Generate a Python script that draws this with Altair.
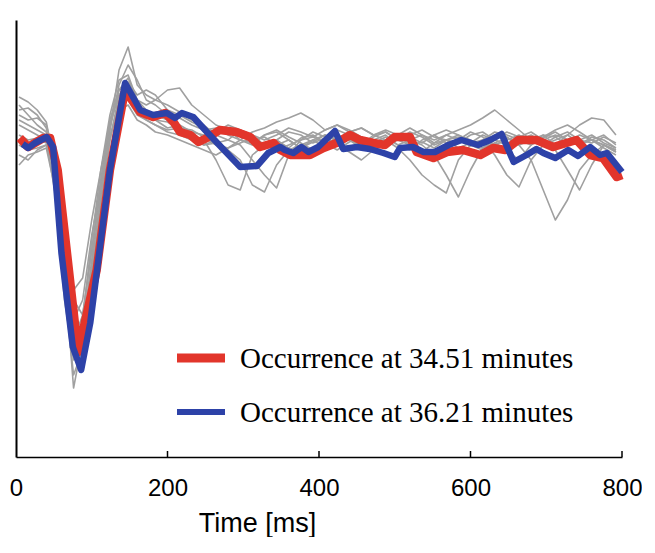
import altair as alt
import pandas as pd

# ---- data (time in ms, amplitude in arbitrary units) ----
red_t = [5, 16, 36, 45, 55, 82, 106.5, 124, 144, 164, 181, 197, 208, 216.5, 230, 241, 252, 269, 291,
         309, 322, 340, 349, 362, 388, 406, 423, 441, 454, 472, 487, 500, 520, 529, 551, 569, 590,
         613, 630, 646, 663, 687, 709, 740, 758, 775, 793, 800]
red_a = [2, -7, 2, 2, -30, -212, -130, -30, 50, 28, 23, 27, 18, 8, 5, -2, 2, 10, 8,
         3, -7, -3, -10, -15, -15, -8, -3, 5, 0, -3, -5, 3, 3, -12, -18, -12, -10,
         -15, -8, -10, 0, 0, -7, 0, -15, -18, -37, -35]

blue_t = [8.8, 16.2, 25, 40.5, 49, 60, 75, 86, 98, 124, 144, 164, 181, 199, 210, 219, 234, 252, 272,
          296, 318, 333, 349, 355, 366, 377, 386, 399, 421, 432, 450, 467, 485, 500, 507, 524, 538,
          553, 571, 588, 610, 626, 641, 657, 674, 687, 696, 712, 729, 742, 758, 771, 780, 800]
blue_a = [-4, -8, -3, 3, -7, -113, -207, -230, -183, -30, 57, 30, 25, 27, 22, 27, 23, 8, -8,
          -27, -26, -13, -7, -10, -13, -7, -12, -7, 9, -9, -7, -9, -13, -17, -8, -7, -12,
          -12, -5, 0, -5, 0, 6, -22, -15, -9, -13, -18, -10, -16, -7, -15, -13, -32]

gray_t = [4, 16, 28, 40, 52, 64, 76, 88, 100, 112, 124, 136, 148, 160, 172, 184, 200, 216, 232, 248,
          264, 280, 296, 312, 328, 344, 360, 376, 392, 408, 424, 440, 456, 472, 488, 504, 520, 536,
          552, 568, 584, 600, 616, 632, 648, 664, 680, 696, 712, 728, 744, 760, 776, 792]

gray_1 = [43, 38, 30, 18, -30, -120, -200, -175, -110, -50, 10, 70, 93, 55, 45, 40, 35, 28, 20, 15,
          5, 0, 10, 5, -5, 0, 8, 5, -3, 2, 10, 5, -5, 0, 5, -5, -10, 0,
          5, -3, 0, 8, 3, -5, 0, 5, -3, 2, 8, 0, -5, 3, 0, -8]
gray_2 = [30, 32, 25, 12, -40, -140, -215, -190, -120, -40, 20, 50, 62, 40, 35, 40, 50, 52, 35, 25,
          15, 10, 0, -5, 5, 8, 0, -8, -2, 5, 0, -10, -5, 3, 8, 0, -5, -12,
          -3, 5, 0, -6, -2, 5, 3, -5, 0, 5, -5, 5, 15, 22, 20, 5]
gray_3 = [20, 15, 10, 5, -25, -110, -190, -230, -150, -60, 0, 45, 50, 35, 28, 20, 18, 10, 5, 0,
          -20, -45, -50, -15, -5, 0, -8, 2, 5, -3, -10, -2, 3, -5, 0, 5, -5, -2,
          -8, 0, 3, -3, 0, -15, -35, -47, -20, -5, 0, 5, -3, 0, -5, -10]
gray_4 = [5, 0, 2, -3, -35, -130, -248, -200, -130, -70, -20, 35, 45, 30, 20, 15, 10, 12, 5, -5,
          0, -10, -20, -45, -52, -25, -10, -5, 0, -8, -3, 5, 0, -8, -3, 0, 8, 3,
          -5, 0, -8, -3, 5, 0, -5, 3, 8, 0, -5, -2, 5, 0, -8, -15]
gray_5 = [-5, -10, -8, -5, -45, -150, -235, -210, -140, -60, 0, 40, 40, 25, 20, 15, 8, 5, 0, -5,
          -3, 0, -5, -20, -35, -48, -15, 0, 3, -2, 5, 0, -8, -3, 3, -5, 0, 5,
          -3, 0, 5, -5, -10, -3, 2, -5, -20, -50, -80, -60, -30, -15, -5, -12]
gray_6 = [35, 25, 15, 8, -30, -115, -180, -160, -95, -45, 10, 55, 75, 60, 40, 35, 25, 22, 15, 10,
          12, 5, 0, 8, 12, 18, 22, 27, 20, 10, 15, 8, 12, 5, 8, 0, 5, 10,
          3, 0, -3, 5, 8, 0, -5, 0, 5, -3, -10, -30, -50, -25, -5, -10]
gray_7 = [-15, -20, -10, -5, -25, -100, -160, -175, -110, -40, 15, 50, 55, 35, 25, 20, 12, 15, 8, 5,
          10, 12, 5, 0, 3, -5, 0, -8, 0, 5, 0, 8, 12, 5, 0, -8, -20, -35,
          -45, -53, -20, -5, 0, 8, 5, 0, -5, 5, 3, -5, 0, 5, -3, -8]
gray_8 = [15, 10, 5, 0, -55, -160, -220, -180, -100, -30, 25, 60, 65, 40, 30, 25, 20, 12, 10, 3,
          -5, -8, 0, -3, 5, 10, 3, -3, -10, -5, 3, 0, -5, 5, 10, 5, 0, -5,
          -15, -35, -57, -30, -8, 0, 8, 3, -3, 0, 5, 0, -5, 0, 5, -5]
gray_9 = [25, 20, 22, 15, -20, -90, -150, -138, -80, -30, 15, 45, 58, 45, 50, 45, 30, 25, 18, 12,
          8, 15, 10, 5, 0, 5, 12, 8, 3, 10, 15, 10, 3, -3, 0, 5, 12, 5,
          0, 5, 10, 15, 22, 30, 20, 10, 0, -5, 3, 8, 0, -3, 3, -3]
gray_10 = [-25, -15, -12, -8, -50, -145, -205, -190, -125, -55, 5, 30, 35, 20, 15, 8, 5, 0, -5, -10,
           -15, -8, -3, 2, -5, -10, -5, 0, 8, 3, -5, -12, -20, -10, -5, 0, 3, -3,
           5, 10, 5, 0, -8, -3, -10, -20, -5, 3, 10, 15, 8, 0, -5, -12]

gray_series = [gray_1, gray_2, gray_3, gray_4, gray_5, gray_6, gray_7, gray_8, gray_9, gray_10]

x_ticks = [0, 200, 400, 600, 800]
inner_ticks = [200, 400, 600, 800]
legend_labels = ["Occurrence at 34.51 minutes", "Occurrence at 36.21 minutes"]

RED = "#e2352b"
BLUE = "#2d42a8"
GRAY = "#a0a0a0"

W, H = 606, 437

# ---- tables ----
gray_rows = []
for i, s in enumerate(gray_series):
    for k, (t, a) in enumerate(zip(gray_t, s)):
        gray_rows.append({"trace": i, "order": k, "t": t, "a": a})
gray_df = pd.DataFrame(gray_rows)
red_df = pd.DataFrame({"t": red_t, "a": red_a, "order": range(len(red_t))})
blue_df = pd.DataFrame({"t": blue_t, "a": blue_a, "order": range(len(blue_t))})

x_scale = alt.Scale(domain=[0, 800], nice=False)
y_scale = alt.Scale(domain=[-317, 120], nice=False, zero=False)

x_axis = alt.Axis(values=x_ticks, ticks=False, grid=False, domainColor="black", domainWidth=1.5,
                  labelFont="Liberation Sans", labelFontSize=24, labelColor="black", labelPadding=19,
                  labelFlush=False, labelOverlap=False,
                  title="Time [ms]", titleFont="Liberation Sans", titleFontSize=27,
                  titleFontWeight="normal", titleColor="black", titlePadding=10,
                  titleX=241, titleAlign="center", titleAnchor="start")
y_axis = alt.Axis(ticks=False, labels=False, grid=False, domainColor="black", domainWidth=2, title="")

gray = alt.Chart(gray_df).mark_line(color=GRAY, strokeWidth=1.6, strokeJoin="round").encode(
    x=alt.X("t:Q", scale=x_scale, axis=x_axis),
    y=alt.Y("a:Q", scale=y_scale, axis=y_axis),
    detail="trace:N",
    order="order:Q",
)
red = alt.Chart(red_df).mark_line(color=RED, strokeWidth=8.5, strokeJoin="round").encode(
    x=alt.X("t:Q", scale=x_scale), y=alt.Y("a:Q", scale=y_scale), order="order:Q")
blue = alt.Chart(blue_df).mark_line(color=BLUE, strokeWidth=6.5, strokeJoin="round").encode(
    x=alt.X("t:Q", scale=x_scale), y=alt.Y("a:Q", scale=y_scale), order="order:Q")

ticks = alt.Chart(pd.DataFrame({"t": inner_ticks})).mark_rule(color="black", strokeWidth=1.5).encode(
    x=alt.X("t:Q", scale=x_scale), y=alt.value(H), y2=alt.value(H - 6))

leg_red = alt.Chart(pd.DataFrame({"label": [legend_labels[0]]})).mark_rule(
    color=RED, strokeWidth=9).encode(x=alt.value(161), x2=alt.value(209), y=alt.value(338))
leg_blue = alt.Chart(pd.DataFrame({"label": [legend_labels[1]]})).mark_rule(
    color=BLUE, strokeWidth=6).encode(x=alt.value(161), x2=alt.value(209), y=alt.value(392))
txt_red = alt.Chart(pd.DataFrame({"label": [legend_labels[0]]})).mark_text(
    align="left", baseline="middle", font="Liberation Serif", fontSize=29, color="black").encode(
    x=alt.value(224), y=alt.value(339), text="label:N")
txt_blue = alt.Chart(pd.DataFrame({"label": [legend_labels[1]]})).mark_text(
    align="left", baseline="middle", font="Liberation Serif", fontSize=29, color="black").encode(
    x=alt.value(224), y=alt.value(393), text="label:N")

chart = alt.layer(gray, red, blue, ticks, leg_red, leg_blue, txt_red, txt_blue).properties(
    width=W, height=H,
    autosize=alt.AutoSizeParams(type="none"),
    padding={"left": 8, "top": 12, "right": 20, "bottom": 80},
).configure_view(stroke=None)

chart.save("out.html", embed_options={"renderer": "svg", "actions": False})
